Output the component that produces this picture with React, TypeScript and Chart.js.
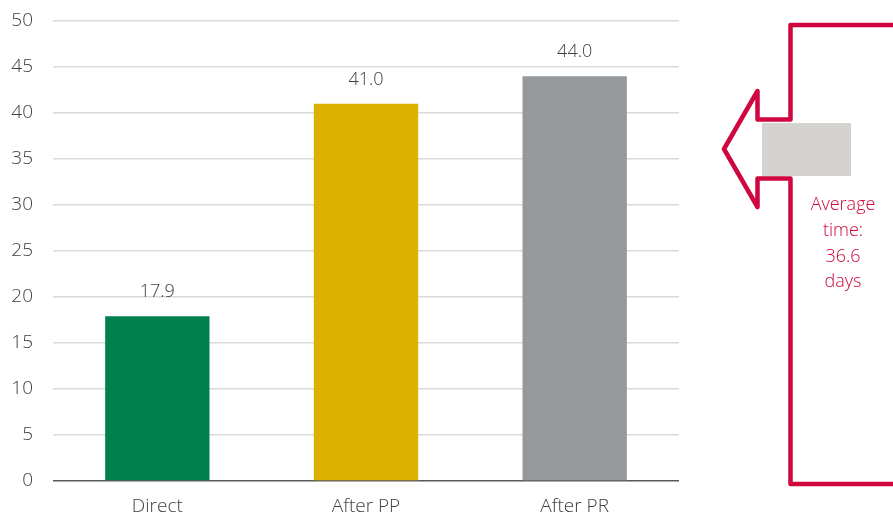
import React, { useEffect, useRef } from "react";
import { Chart, registerables } from "chart.js";

Chart.register(...registerables);

// Waiting time by route (days)
const categories = ["Direct", "After PP", "After PR"];
const waitDays = [17.9, 41.0, 44.0];
const barColors = ["#00804f", "#ddb100", "#95999b"];
const yTicks = [0, 5, 10, 15, 20, 25, 30, 35, 40, 45, 50];
const averageDays = 36.6;
const averageLines = ["Average", "time:", averageDays.toFixed(1), "days"];

const FONT = "'Open Sans', 'Segoe UI', sans-serif";
const TEXT = "#404040";
const ACCENT = "#d0063e";

// Value labels above each bar
const valueLabels = {
  id: "valueLabels",
  afterDatasetsDraw(chart: any) {
    const ctx = chart.ctx;
    const meta = chart.getDatasetMeta(0);
    ctx.save();
    ctx.font = `300 18px ${FONT}`;
    ctx.fillStyle = TEXT;
    ctx.textAlign = "center";
    ctx.textBaseline = "middle";
    meta.data.forEach((bar: any, i: number) => {
      ctx.fillText(waitDays[i].toFixed(1), bar.x, bar.y - 24);
    });
    ctx.restore();
  },
};

// Bracket with arrow pointing to the chart, plus the average caption
const averageCallout = {
  id: "averageCallout",
  afterDraw(chart: any) {
    const ctx = chart.ctx;
    const W = chart.width;
    ctx.save();
    ctx.strokeStyle = ACCENT;
    ctx.lineWidth = 4.5;
    ctx.lineJoin = "round";
    ctx.lineCap = "round";
    ctx.beginPath();
    ctx.moveTo(W + 5, 25);
    ctx.lineTo(790.5, 25);
    ctx.lineTo(790.5, 119.5);
    ctx.lineTo(757.5, 119.5);
    ctx.lineTo(757.5, 91);
    ctx.lineTo(724, 149);
    ctx.lineTo(757.5, 207);
    ctx.lineTo(757.5, 178.5);
    ctx.lineTo(790.5, 178.5);
    ctx.lineTo(790.5, 484);
    ctx.lineTo(W + 5, 484);
    ctx.stroke();

    ctx.fillStyle = "#d4d3cf";
    ctx.fillRect(762, 123, 89, 53);

    ctx.font = `300 18px ${FONT}`;
    ctx.fillStyle = ACCENT;
    ctx.textAlign = "center";
    ctx.textBaseline = "middle";
    averageLines.forEach((line, i) => {
      ctx.fillText(line, 843, 205 + i * 25.7);
    });
    ctx.restore();
  },
};

export default function App() {
  const ref = useRef<HTMLCanvasElement | null>(null);

  useEffect(() => {
    document.body.style.margin = "0";
    const canvas = ref.current;
    if (!canvas) return;
    const chart = new Chart(canvas, {
      type: "bar",
      data: {
        labels: categories,
        datasets: [
          {
            data: waitDays,
            backgroundColor: barColors,
            borderWidth: 0,
            barPercentage: 0.5,
            categoryPercentage: 1,
          },
        ],
      },
      options: {
        responsive: false,
        animation: false,
        devicePixelRatio: 1,
        layout: { padding: { top: 21, right: 214, left: 0, bottom: 0 } },
        plugins: {
          legend: { display: false },
          tooltip: { enabled: false },
        },
        scales: {
          x: {
            grid: { display: false, drawTicks: false },
            border: { display: false },
            ticks: {
              color: TEXT,
              padding: 14,
              font: { family: FONT, size: 19, weight: "300" as any },
            },
            afterFit(scale: any) {
              scale.height = 34;
            },
          },
          y: {
            min: 0,
            max: 50,
            afterBuildTicks(scale: any) {
              scale.ticks = yTicks.map((v) => ({ value: v }));
            },
            grid: {
              drawTicks: false,
              color: (c: any) => (c.tick && c.tick.value === 0 ? "#595959" : "#d9d9d9"),
              lineWidth: 1.5,
            },
            border: { display: false },
            ticks: {
              color: TEXT,
              padding: 20,
              font: { family: FONT, size: 19, weight: "300" as any },
            },
            afterFit(scale: any) {
              scale.width = 53;
              scale.paddingTop = 0;
              scale.paddingBottom = 0;
            },
          },
        },
      },
      plugins: [valueLabels, averageCallout],
    });
    return () => chart.destroy();
  }, []);

  return (
    <div style={{ width: 893, height: 515 }}>
      <canvas ref={ref} width={893} height={515} />
    </div>
  );
}
